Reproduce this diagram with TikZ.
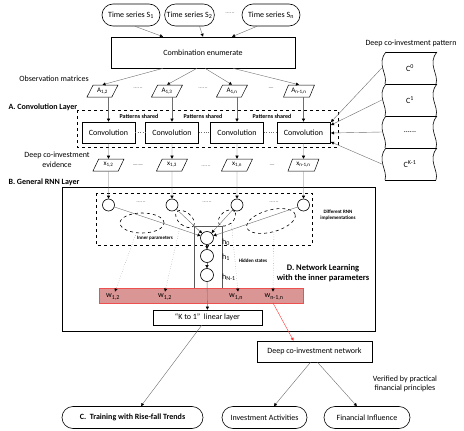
\documentclass[tikz,border=0pt]{standalone}
\usepackage{fontspec}
\setmainfont{Carlito}
\usetikzlibrary{shapes, arrows.meta, positioning, calc}
\definecolor{bandRed}{RGB}{218,150,148}
\definecolor{bandEdge}{RGB}{238,80,80}
\definecolor{lineGray}{RGB}{110,110,110}

\begin{document}
\begin{tikzpicture}[x=1pt, y=-1pt,
	font=\fontsize{8}{9.6}\selectfont,
	box/.style={draw, line width=0.6pt, minimum width=53pt, minimum height=21pt, inner sep=1pt},
	pill/.style={draw, line width=0.6pt, rounded corners=11pt, minimum height=22pt, inner sep=2pt},
	para/.style={draw, line width=0.5pt, trapezium, trapezium left angle=60, trapezium right angle=120,
		trapezium stretches=true, minimum width=31pt, minimum height=12pt, inner sep=0pt,
		font=\fontsize{7}{8}\selectfont},
	unit/.style={draw, line width=0.6pt, circle, minimum size=12pt, inner sep=0pt},
	param/.style={draw, dashed, line width=0.6pt, ellipse, inner sep=0pt},
	conn/.style={draw=lineGray, line width=0.4pt, -{Triangle[length=3pt,width=3pt,color=black]}},
	weak/.style={conn, dotted},
	tag/.style={font=\fontsize{6}{7}\selectfont\bfseries},
	tiny/.style={font=\fontsize{5}{6}\selectfont\bfseries, align=center},
	gap/.style={font=\fontsize{6}{7}\selectfont, text=lineGray},
	title/.style={font=\fontsize{8}{9.6}\selectfont\bfseries, anchor=west}]
	\useasboundingbox (0,0) rectangle (464,431);
	% inputs
	\node[pill, minimum width=58pt] (s1) at (131,15) {Time series S\textsubscript{1}};
	\node[pill, minimum width=47pt] (s2) at (189.5,15) {Time series S\textsubscript{2}};
	\node[pill, minimum width=58pt] (sn) at (271,15) {Time series S\textsubscript{n}};
	\node[gap] (sdots) at (230,13) {......};
	\node[draw, line width=0.6pt, minimum width=184pt, minimum height=31pt] (comb) at (203,52.5) {Combination enumerate};
	\draw[conn] ($(s1.south)+(4,0)$) -- ($(comb.north)+(-40,0)$);
	\draw[conn] ($(s2.south)+(10,0)$) -- (comb.north);
	\draw[conn] ($(sn.south)+(-14,0)$) -- ($(comb.north)+(29,0)$);
	% observation matrices
	\node (obs) at (54,79) {Observation matrices};
	\node[para] (a1) at (102.5,91) {A\textsubscript{1,2}};
	\node[para] (a2) at (167,91) {A\textsubscript{1,3}};
	\node[para] (a3) at (232,91) {A\textsubscript{1,n}};
	\node[para] (a4) at (299,91) {A\textsubscript{n-1,n}};
	\node[gap] at (138,88) {......};
	\node[gap] at (203,88) {......};
	\node[gap] at (271,89) {---};
	\draw[conn] ($(comb.south)+(-40,0)$) -- (a1.north);
	\draw[conn] ($(comb.south)+(-6,0)$) -- (a2.north);
	\draw[conn] ($(comb.south)+(2,0)$) -- (a3.north);
	\draw[conn] ($(comb.south)+(30,0)$) -- (a4.north);
	% A. convolution layer
	\node[title] (lblA) at (5,107) {A. Convolution Layer};
	\draw[dashed, line width=0.6pt] (77,110) rectangle (338,147);
	\node[box] (conv1) at (108.5,132.5) {Convolution};
	\node[box] (conv2) at (172,132.5) {Convolution};
	\node[box] (conv3) at (237,132.5) {Convolution};
	\node[box] (conv4) at (303.5,132.5) {Convolution};
	\draw[dotted, lineGray] (conv1) -- (conv2);
	\draw[dotted, lineGray] (conv2) -- (conv3);
	\draw[dotted, lineGray] (conv3) -- (conv4);
	\node[tag] at (139,116) {Patterns shared};
	\node[tag] at (203,116) {Patterns shared};
	\node[tag] at (272,116) {Patterns shared};
	\foreach \i in {1,...,4}
		\draw[conn] (conv\i.north |- a\i.south) -- (conv\i.north);
	% evidence
	\node[align=center] (evid) at (57,160) {Deep co-investment\\evidence};
	\node[para] (x1) at (108.5,165) {x\textsubscript{1,2}};
	\node[para] (x2) at (172,165) {x\textsubscript{1,3}};
	\node[para] (x3) at (237,165) {x\textsubscript{1,n}};
	\node[para] (x4) at (303.5,165) {x\textsubscript{n-1,n}};
	\node[gap] at (138,166) {------};
	\node[gap] at (206,166) {......};
	\node[gap] at (272,166) {---};
	\foreach \i in {1,...,4}
		\draw[conn] (conv\i) -- (x\i);
	% deep co-investment pattern
	\node (pat) at (411,43) {Deep co-investment pattern};
	\node[minimum width=54pt, minimum height=32pt] (p0) at (410,68) {C\textsuperscript{0}};
	\node[minimum width=54pt, minimum height=32pt] (p1) at (410,100) {C\textsuperscript{1}};
	\node[minimum width=54pt, minimum height=32pt] (p2) at (410,132) {......};
	\node[minimum width=54pt, minimum height=32pt] (p3) at (410,164) {C\textsuperscript{K-1}};
	\foreach \t in {52,84,116,148} {
		\draw[line width=0.6pt] (386,\t) .. controls (376,\t+12) and (388,\t+22) .. (385,\t+32);
		\draw[line width=0.6pt] (437,\t) .. controls (427,\t+12) and (439,\t+22) .. (436,\t+32);
		\draw[line width=0.9pt] (386,\t) -- (437,\t);
	}
	\draw[line width=0.6pt] (385,180) -- (436,180);
	\coordinate (t0) at (331,122);
	\coordinate (t1) at (331,125);
	\coordinate (t2) at (331,133);
	\coordinate (t3) at (331,142);
	\foreach \i in {0,...,3}
		\draw[conn] ($(p\i.west)+(-1,0)$) -- (t\i);
	% B. general RNN layer
	\node[title] (lblB) at (5,182) {B. General RNN Layer};
	\draw[line width=0.6pt] (62,187) rectangle (375,331);
	\draw[dashed, line width=0.6pt] (96,193) rectangle (312,245);
	\node[unit] (r1) at (108.5,205) {};
	\node[unit] (r2) at (172,205) {};
	\node[unit] (r3) at (237,205) {};
	\node[unit] (r4) at (303.5,205) {};
	\node[gap] at (141,202) {......};
	\node[gap] at (207,202) {......};
	\node[gap] at (274,202) {......};
	\foreach \i in {1,...,4}
		\draw[conn] (x\i) -- (r\i);
	\node[param, minimum width=44pt, minimum height=20pt] (e1) at (142,223) {};
	\node[param, minimum width=22pt, minimum height=13pt, rotate=-40] (e2) at (185,219) {};
	\node[param, minimum width=20pt, minimum height=13pt, rotate=40] (e3) at (227,218) {};
	\node[param, minimum width=50pt, minimum height=22pt, rotate=15] (e4) at (271,221) {};
	\node[tiny] (inner) at (155,238) {Inner parameters};
	\node[tiny] (impl) at (338,215) {Different RNN\\implementations};
	% hidden states
	\draw[lineGray!80!black, line width=0.9pt] (194,226) rectangle (222,288);
	\node[unit, minimum size=13pt] (h0) at (207,238) {};
	\node[unit, minimum size=13pt] (h1) at (207,256) {};
	\node[unit, minimum size=13pt] (hN) at (207,275) {};
	\node[anchor=west, inner sep=0pt] at (222,242) {h\textsubscript{0}};
	\node[anchor=west, inner sep=0pt] at (222,257) {h\textsubscript{1}};
	\node[anchor=west, inner sep=0pt] at (222,277) {h\textsubscript{N-1}};
	\node[tiny] (hid) at (253,261) {Hidden states};
	\foreach \i in {1,...,4}
		\draw[conn] (r\i) -- (h0);
	\draw[conn] (h0) -- (h1);
	\draw[conn] (h1) -- (hN);
	% weights
	\node[draw=bandEdge, fill=bandRed, line width=0.7pt, minimum width=204pt, minimum height=15pt] (band) at (201,295.5) {};
	\node (w1) at (113,297) {w\textsubscript{1,2}};
	\node (w2) at (165,297) {w\textsubscript{1,2}};
	\node (w3) at (236,297) {w\textsubscript{1,n}};
	\node (w4) at (274,297) {w\textsubscript{n-1,n}};
	\draw[weak] (e1.240) -- ($(w1.north)+(2,1)$);
	\draw[weak] (e2.south) -- ($(w2.north)+(0,1)$);
	\draw[weak] (e3.south) -- ($(w3.north)+(2,1)$);
	\draw[weak] (e4.south) -- ($(w4.north)+(-1,1)$);
	\node[font=\fontsize{8.5}{10}\selectfont\bfseries, align=center] (lblD) at (323,273) {D. Network Learning\\with the inner parameters};
	% outputs
	\node[draw, line width=0.6pt, minimum width=109pt, minimum height=15pt, inner sep=1pt] (lin) at (207.5,317.5) {``K to 1''\ \ linear layer};
	\draw[conn] (hN) -- (lin);
	\node[draw, line width=0.6pt, minimum width=115pt, minimum height=21pt] (net) at (314.5,351.5) {Deep co-investment network};
	\coordinate (wout) at (273,303);
	\draw[red!80, line width=0.4pt, -{Triangle[length=3pt,width=3pt]}] (wout) -- ($(net.north)+(-21,0)$);
	\node[pill, minimum width=141pt, font=\fontsize{8}{9.6}\selectfont\bfseries] (train) at (132.5,417.5) {C.\ \ Training with Rise-fall Trends};
	\node[pill, minimum width=85pt] (act) at (264.5,417.5) {Investment Activities};
	\node[pill, minimum width=86pt] (infl) at (367,417.5) {Financial Influence};
	\draw[conn] (lin) -- (train);
	\draw[conn] ($(net.south)+(-4,0)$) -- (act);
	\draw[conn] ($(net.south)+(3,0)$) -- (infl);
	\node[align=center] (verif) at (405,384) {Verified by practical\\financial principles};
\end{tikzpicture}
\end{document}
